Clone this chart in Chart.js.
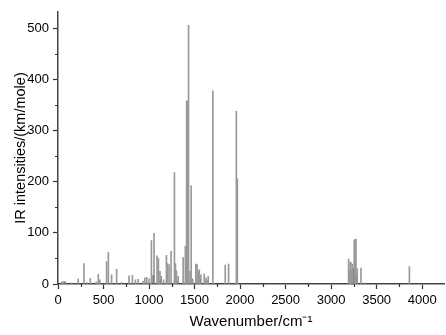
<!DOCTYPE html>
<html>
<head>
<meta charset="utf-8">
<script src="https://cdn.jsdelivr.net/npm/chart.js@4"></script>
<style>
  html, body { margin: 0; padding: 0; background: #fff; }
  #wrap { width: 446px; height: 335px; }
</style>
</head>
<body>
<div id="wrap"><canvas id="Plot" width="446" height="335"></canvas></div>
<script>
// stick spectrum
var wavenumbers = [40, 60, 80, 150, 222, 285, 320, 354, 420, 442, 460, 534, 553, 589, 644, 700,
  780, 817, 850, 880, 934, 955, 975, 1000, 1026, 1055, 1088, 1103, 1120, 1135, 1160, 1191, 1202,
  1220, 1242, 1279, 1290, 1301, 1320, 1375, 1399, 1413, 1420, 1434, 1450, 1463, 1480, 1514, 1528,
  1540, 1552, 1570, 1606, 1625, 1640, 1650, 1701, 1837, 1874, 1959, 1970, 3192, 3203, 3210, 3218,
  3235, 3254, 3264, 3273, 3287, 3328, 3370, 3860];
var intensities = [4, 5, 5, 2, 10, 40, 3, 11, 4, 19, 8, 44, 62, 18, 29, 3,
  16, 17, 8, 9, 5, 12, 13, 10, 85, 99, 55, 50, 25, 15, 8, 56, 40,
  38, 64, 218, 40, 26, 15, 52, 74, 358, 358, 506, 25, 192, 8, 39, 38,
  25, 28, 18, 20, 12, 8, 15, 378, 37, 39, 338, 206, 49, 27, 43, 42,
  39, 86, 87, 88, 30, 31, 2, 34];
// darker short sticks where modes overlap
var darkWavenumbers = [75, 1048, 1130, 1320, 1430, 1470, 1545, 1560, 3215, 3240, 3260, 3280];
var darkIntensities = [3, 17, 10, 4, 6, 10, 8, 10, 25, 30, 20, 15];

var xTicks = [0, 500, 1000, 1500, 2000, 2500, 3000, 3500, 4000];
var yTicks = [0, 100, 200, 300, 400, 500];

function pairs(xs, ys) {
  var arr = [];
  for (var i = 0; i < xs.length; i++) {
    arr.push({x: xs[i], y: ys[i]});
  }
  return arr;
}

Chart.defaults.font.family = "'Liberation Sans', Arial, sans-serif";
Chart.defaults.color = '#000';

// short minor ticks between the labelled ones
var minorTicks = {
  id: 'minorTicks',
  afterDraw: function(chart) {
    var c = chart.ctx;
    var xs = chart.scales.x, ys = chart.scales.y;
    c.save();
    c.strokeStyle = '#333';
    c.lineWidth = 1.2;
    c.beginPath();
    for (var v = 250; v < xs.max; v += 500) {
      var px = Math.round(xs.getPixelForValue(v)) + 0.5;
      c.moveTo(px, ys.bottom);
      c.lineTo(px, ys.bottom + 3);
    }
    for (var w = 50; w < ys.max; w += 100) {
      var py = Math.round(ys.getPixelForValue(w)) + 0.5;
      c.moveTo(xs.left, py);
      c.lineTo(xs.left - 3, py);
    }
    c.stroke();
    c.restore();
  }
};

var ctx = document.getElementById('Plot').getContext('2d');
var myChart = new Chart(ctx, {
  type: 'bar',
  data: {
    datasets: [{
      data: pairs(wavenumbers, intensities),
      backgroundColor: '#999',
      barThickness: 1,
      grouped: false
    }, {
      data: pairs(darkWavenumbers, darkIntensities),
      backgroundColor: '#222',
      barThickness: 1,
      grouped: false
    }]
  },
  options: {
    responsive: false,
    animation: false,
    layout: { padding: { top: 12, right: 2, left: 8, bottom: 0 } },
    plugins: { legend: { display: false }, tooltip: { enabled: false } },
    scales: {
      x: {
        type: 'linear',
        offset: false,
        min: 0,
        max: 4240,
        afterBuildTicks: function(s) { s.ticks = xTicks.map(function(v) { return {value: v}; }); },
        afterFit: function(s) { s.height = 51; },
        ticks: { font: { size: 13 }, padding: 4, maxRotation: 0, callback: function(v) { return String(v); } },
        grid: { offset: false, drawOnChartArea: false, tickLength: 5, tickColor: '#333', tickWidth: 1.2 },
        border: { color: '#444', width: 1.5 },
        title: { display: true, text: 'Wavenumber/cm\u207B\u00B9', font: { size: 15 }, padding: { top: 2 } }
      },
      y: {
        min: 0,
        max: 532,
        afterBuildTicks: function(s) { s.ticks = yTicks.map(function(v) { return {value: v}; }); },
        afterFit: function(s) { s.width = 50; },
        ticks: { font: { size: 13 }, padding: 4, callback: function(v) { return String(v); } },
        grid: { drawOnChartArea: false, tickLength: 5, tickColor: '#333', tickWidth: 1.2 },
        border: { color: '#444', width: 1.5 },
        title: { display: true, text: 'IR intensities/(km/mole)', font: { size: 14.5 }, padding: { bottom: 2 } }
      }
    }
  },
  plugins: [minorTicks]
});
</script>
</body>
</html>
